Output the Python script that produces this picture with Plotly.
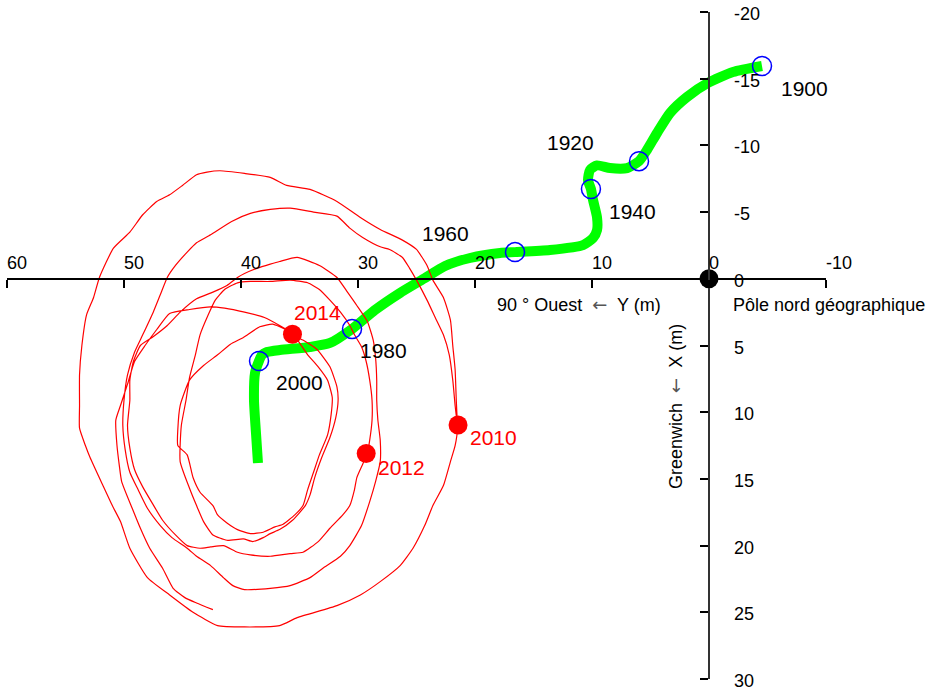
import plotly.graph_objects as go

# ---- Mean pole drift 1900-2000 (metres) ----
# horizontal: Y towards 90° West, vertical: X towards Greenwich
drift_y = [-4.53, -2.05, 0.09, 1.88, 3.33, 4.44, 5.30, 5.98, 7.0, 8.46, 9.57, 10.17,
           10.34, 10.09, 9.91, 9.57, 9.57, 9.91, 10.77, 13.59, 16.58, 17.86, 20.43,
           22.56, 24.27, 26.41, 28.55, 30.51, 32.39, 34.10, 36.67, 37.78, 38.21,
           38.46, 38.80, 38.89, 38.72, 38.55]
drift_x = [-15.95, -15.50, -14.68, -13.63, -12.43, -10.93, -9.66, -8.82, -8.3, -8.3,
           -8.5, -8.16, -7.4, -6.73, -5.9, -4.6, -3.65, -3.06, -2.53, -2.16, -2.0,
           -1.94, -1.56, -0.96, -0.06, 1.06, 2.34, 3.76, 4.81, 5.11, 5.34, 5.49,
           5.71, 6.16, 7.06, 9.08, 11.56, 13.81]

decades = ["1900", "1920", "1940", "1960", "1980", "2000"]
decade_y = [-4.53, 5.98, 10.09, 16.58, 30.51, 38.46]
decade_x = [-15.95, -8.82, -6.73, -2.0, 3.76, 6.16]

# ---- Polar motion 2010-2015 (metres) ----
wobble_y = [
    21.5, 21.6, 21.7, 21.9, 22.1, 22.7, 23.6, 24.1, 25.0, 26.2, 28.1, 29.8, 31.8,
    34.1, 36.1, 37.5, 39.7, 41.8, 42.9, 43.8, 45.0, 46.1, 47.2, 48.4, 49.5, 50.9,
    52.1, 52.6, 53.2, 53.6, 53.8, 53.8, 53.8, 53.3, 52.9, 51.8, 51.0, 50.3, 49.5,
    48.0, 46.1, 44.1, 42.0, 39.7, 36.7, 35.2, 31.8, 29.8, 28.1, 26.4, 25.3, 24.3,
    23.6, 22.7, 22.1, 21.7, 21.5,
    21.7, 21.9, 22.2, 22.7, 23.4, 24.1, 25.0, 25.6, 26.2, 27.3, 28.1, 29.6, 30.7,
    31.8, 33.8, 35.8, 37.5, 39.2, 40.8, 42.6, 43.8, 44.6, 45.6, 46.3, 46.9, 47.5,
    48.4, 49.1, 49.7, 50.0, 50.1, 49.9, 49.5, 48.8, 48.0, 46.9, 45.9, 44.6, 43.8,
    42.6, 41.5, 40.7, 39.7, 37.5, 35.8, 34.1, 33.0, 31.5, 30.7, 29.7, 29.0, 28.5,
    28.1, 28.1, 28.3, 28.4,
    28.4, 28.5, 28.7, 29.2, 30.1, 30.9, 31.8, 33.3, 35.2, 36.7, 37.5, 38.6, 39.7,
    40.3, 41.2, 42.4, 43.8, 45.2, 46.3, 47.6, 48.6, 49.2, 49.5, 49.5, 49.7, 49.5,
    49.1, 48.4, 47.6, 46.7, 45.6, 44.6, 43.5, 42.6, 41.5, 40.3, 39.2, 37.5, 35.8,
    34.7, 33.4, 32.4, 31.3, 30.7, 30.3, 30.1, 29.6, 29.2,
    29.0, 28.8, 28.8, 29.0, 29.3, 29.7, 30.3, 30.7, 31.5, 32.4, 33.3, 34.3, 35.8,
    37.5, 39.2, 40.3, 41.4, 42.2, 42.8, 43.5, 43.9, 44.4, 44.7, 45.1, 45.2, 44.4,
    43.8, 43.2, 42.4, 41.2, 39.8, 39.0, 38.1, 37.5, 36.7, 35.6, 34.5, 34.1, 33.7,
    33.1, 32.4, 31.9, 31.7, 31.8, 32.4, 33.5, 34.5, 35.6,
    36.2, 37.3, 38.4, 39.8, 40.9, 42.0, 43.2, 44.4, 45.2, 45.4, 45.4, 44.6, 44.1,
    43.5, 42.4, 42.0, 41.2, 40.3, 39.2, 38.1, 37.1, 36.4, 35.4, 34.7, 34.3, 33.8,
    33.3, 32.6, 32.3, 32.2, 32.6, 33.4, 34.3, 35.0, 35.6,
    36.7, 38.0, 39.7, 41.4, 42.6, 44.4, 46.1, 47.2, 48.2, 49.1, 49.7, 50.3, 50.7,
    50.6, 50.4, 50.2, 49.3, 48.6, 47.8, 46.7, 45.8, 44.8, 43.8, 42.4,
]
wobble_x = [
    11.0, 9.1, 6.8, 5.0, 3.1, 1.4, 0.1, -1.0, -2.2, -2.9, -3.7, -4.6, -5.8,
    -6.7, -7.0, -7.6, -7.9, -8.1, -8.0, -7.8, -7.0, -6.3, -5.8, -4.8, -3.5, -2.3,
    -0.1, 1.4, 2.7, 5.0, 7.2, 9.5, 11.2, 12.5, 13.4, 15.5, 17.0, 18.2, 20.2,
    22.4, 23.7, 25.0, 26.0, 26.1, 26.0, 25.4, 24.5, 23.7, 22.7, 21.5, 20.2, 18.5,
    17.0, 15.5, 13.7, 12.5, 11.2,
    9.5, 7.6, 5.7, 4.2, 2.9, 1.6, 0.1, -0.8, -1.6, -2.2, -2.4, -3.1, -3.8,
    -4.7, -5.0, -5.3, -5.2, -4.9, -4.3, -3.3, -2.7, -2.0, -1.0, -0.1, 1.2, 2.5,
    4.2, 5.5, 7.2, 9.1, 11.0, 12.8, 14.5, 15.8, 17.2, 18.5, 19.4, 20.2, 20.8,
    21.5, 22.4, 23.0, 23.3, 23.2, 23.0, 22.4, 21.7, 20.8, 20.0, 18.5, 16.7, 15.2,
    13.7, 12.1, 10.6, 9.1,
    7.6, 5.9, 4.6, 3.2, 2.0, 1.0, -0.1, -1.0, -1.6, -1.3, -1.1, -0.8, -0.4,
    -0.1, 0.5, 1.0, 1.5, 2.5, 3.5, 4.4, 5.0, 6.2, 7.6, 9.1, 11.0, 12.7,
    14.3, 15.6, 16.8, 18.1, 19.2, 20.0, 20.2, 20.1, 20.0, 20.5, 20.7, 20.8, 20.6,
    20.5, 19.7, 18.7, 17.7, 17.0, 15.8, 14.9, 13.9, 13.1,
    12.1, 10.6, 9.1, 7.6, 6.2, 5.1, 4.2, 3.5, 2.5, 1.6, 0.8, 0.3, 0.1,
    0.2, 0.2, 0.3, 0.8, 1.6, 2.7, 4.2, 5.7, 7.4, 9.1, 11.0, 13.7, 15.7,
    17.0, 18.2, 19.2, 19.6, 19.5, 19.7, 19.4, 19.1, 18.8, 18.1, 17.0, 16.2, 14.9,
    13.4, 11.9, 10.4, 9.1, 8.1, 6.6, 5.3, 4.7, 4.2,
    3.8, 3.4, 3.6, 4.4, 4.9, 5.7, 6.5, 7.6, 9.5, 11.3, 12.5, 13.2, 14.9,
    16.0, 17.0, 17.7, 18.3, 18.8, 19.1, 19.0, 18.6, 18.4, 17.7, 17.0, 15.8, 14.5,
    13.2, 11.7, 10.2, 8.9, 7.6, 6.6, 5.7, 4.8, 4.1,
    3.5, 2.9, 2.5, 2.2, 2.1, 2.3, 2.6, 3.8, 5.0, 6.2, 7.9, 9.5, 10.6,
    12.5, 14.0, 15.2, 17.2, 18.7, 20.2, 21.7, 23.2, 23.9, 24.3, 24.8,
]

years = ["2010", "2012", "2014"]
year_y = [21.45, 29.3, 35.6]
year_x = [10.96, 13.1, 4.15]

# ---- Axes ----
x_ticks = [60, 50, 40, 30, 20, 10, 0, -10]
y_ticks = [-20, -15, -10, -5, 0, 5, 10, 15, 20, 25, 30]

W, H = 927, 691
# screen scale of the chart (pixels per metre) and where the pole sits
PX_PER_M_H, PX_PER_M_V = 11.7, 13.34
POLE_PX, POLE_PY = 709.0, 278.8


def fx(v):
    return (POLE_PX - PX_PER_M_H * v) / W


def fy(v):
    return 1 - (POLE_PY + PX_PER_M_V * v) / H


FONT = "Liberation Sans, Arial, Helvetica, sans-serif"
ARROW = '<span style="font-family:DejaVu Sans;color:#555555">←</span>'

fig = go.Figure()

fig.add_trace(go.Scatter(
    x=drift_y, y=drift_x, mode="lines",
    line=dict(color="#00ff00", width=10, shape="spline", smoothing=0.6),
    hoverinfo="skip"))

fig.add_trace(go.Scatter(
    x=wobble_y, y=wobble_x, mode="lines",
    line=dict(color="#ff0000", width=1.2, shape="spline", smoothing=0.5),
    hoverinfo="skip"))

fig.add_trace(go.Scatter(
    x=decade_y, y=decade_x, mode="markers",
    marker=dict(symbol="circle-open", size=19, color="#0000ff",
                line=dict(width=1.5, color="#0000ff")),
    cliponaxis=False, hoverinfo="skip"))

fig.add_trace(go.Scatter(
    x=year_y, y=year_x, mode="markers",
    marker=dict(symbol="circle", size=19, color="#ff0000"),
    cliponaxis=False, hoverinfo="skip"))

fig.add_trace(go.Scatter(
    x=[0], y=[0], mode="markers",
    marker=dict(symbol="circle", size=19, color="black"),
    cliponaxis=False, hoverinfo="skip"))

# tick labels: above the horizontal axis, right of the vertical axis
for v in x_ticks:
    fig.add_annotation(x=v, y=0, text=str(v), showarrow=False,
                       xanchor="left", yanchor="bottom", xshift=-2, yshift=4,
                       font=dict(family=FONT, size=18, color="black"))
for v in y_ticks:
    fig.add_annotation(x=0, y=v, text=str(v), showarrow=False,
                       xanchor="left", yanchor="middle", xshift=23, yshift=-2,
                       font=dict(family=FONT, size=18, color="black"))

# decade labels along the drift
decade_label_pos = {
    "1900": (-8.12, -14.30), "1920": (11.88, -10.18), "1940": (6.50, -5.08),
    "1960": (22.48, -3.43), "1980": (27.78, 5.40), "2000": (34.96, 7.81),
}
for txt in decades:
    lx, ly = decade_label_pos[txt]
    fig.add_annotation(x=lx, y=ly, text=txt, showarrow=False,
                       xanchor="center", yanchor="middle",
                       font=dict(family=FONT, size=21, color="black"))

year_label_pos = {"2010": (18.38, 11.86), "2012": (26.24, 14.18), "2014": (33.42, 2.49)}
for txt in years:
    lx, ly = year_label_pos[txt]
    fig.add_annotation(x=lx, y=ly, text=txt, showarrow=False,
                       xanchor="center", yanchor="middle",
                       font=dict(family=FONT, size=21, color="#ff0000"))

# axis captions
fig.add_annotation(x=11.11, y=1.9, text="90 ° Ouest  " + ARROW + "  Y (m)", showarrow=False,
                   xanchor="center", yanchor="middle",
                   font=dict(family=FONT, size=18, color="black"))
fig.add_annotation(x=-2.05, y=1.95, text="Pôle nord géographique", showarrow=False,
                   xanchor="left", yanchor="middle", xshift=-2,
                   font=dict(family=FONT, size=18, color="black"))
fig.add_annotation(x=2.91, y=9.54, text="Greenwich  " + ARROW + "  X (m)", showarrow=False,
                   textangle=-90, xanchor="center", yanchor="middle",
                   font=dict(family=FONT, size=18, color="black"))

fig.update_layout(
    width=W, height=H,
    margin=dict(l=0, r=0, t=0, b=0),
    paper_bgcolor="white", plot_bgcolor="rgba(0,0,0,0)",
    showlegend=False,
    xaxis=dict(
        range=[60, -10], domain=[fx(60), fx(-10)],
        anchor="free", position=fy(0), side="bottom",
        showgrid=False, zeroline=False, automargin=False,
        showline=True, linecolor="black", linewidth=1.5,
        ticks="outside", ticklen=8, tickwidth=1.5, tickcolor="black",
        tickvals=x_ticks, showticklabels=False,
    ),
    yaxis=dict(
        range=[30, -20], domain=[fy(30), fy(-20)],
        anchor="free", position=fx(0), side="left",
        showgrid=False, zeroline=False, automargin=False,
        showline=True, linecolor="#333333", linewidth=1.5,
        ticks="outside", ticklen=8, tickwidth=1.5, tickcolor="black",
        tickvals=y_ticks, showticklabels=False,
    ),
)

fig.write_html("out.html")
